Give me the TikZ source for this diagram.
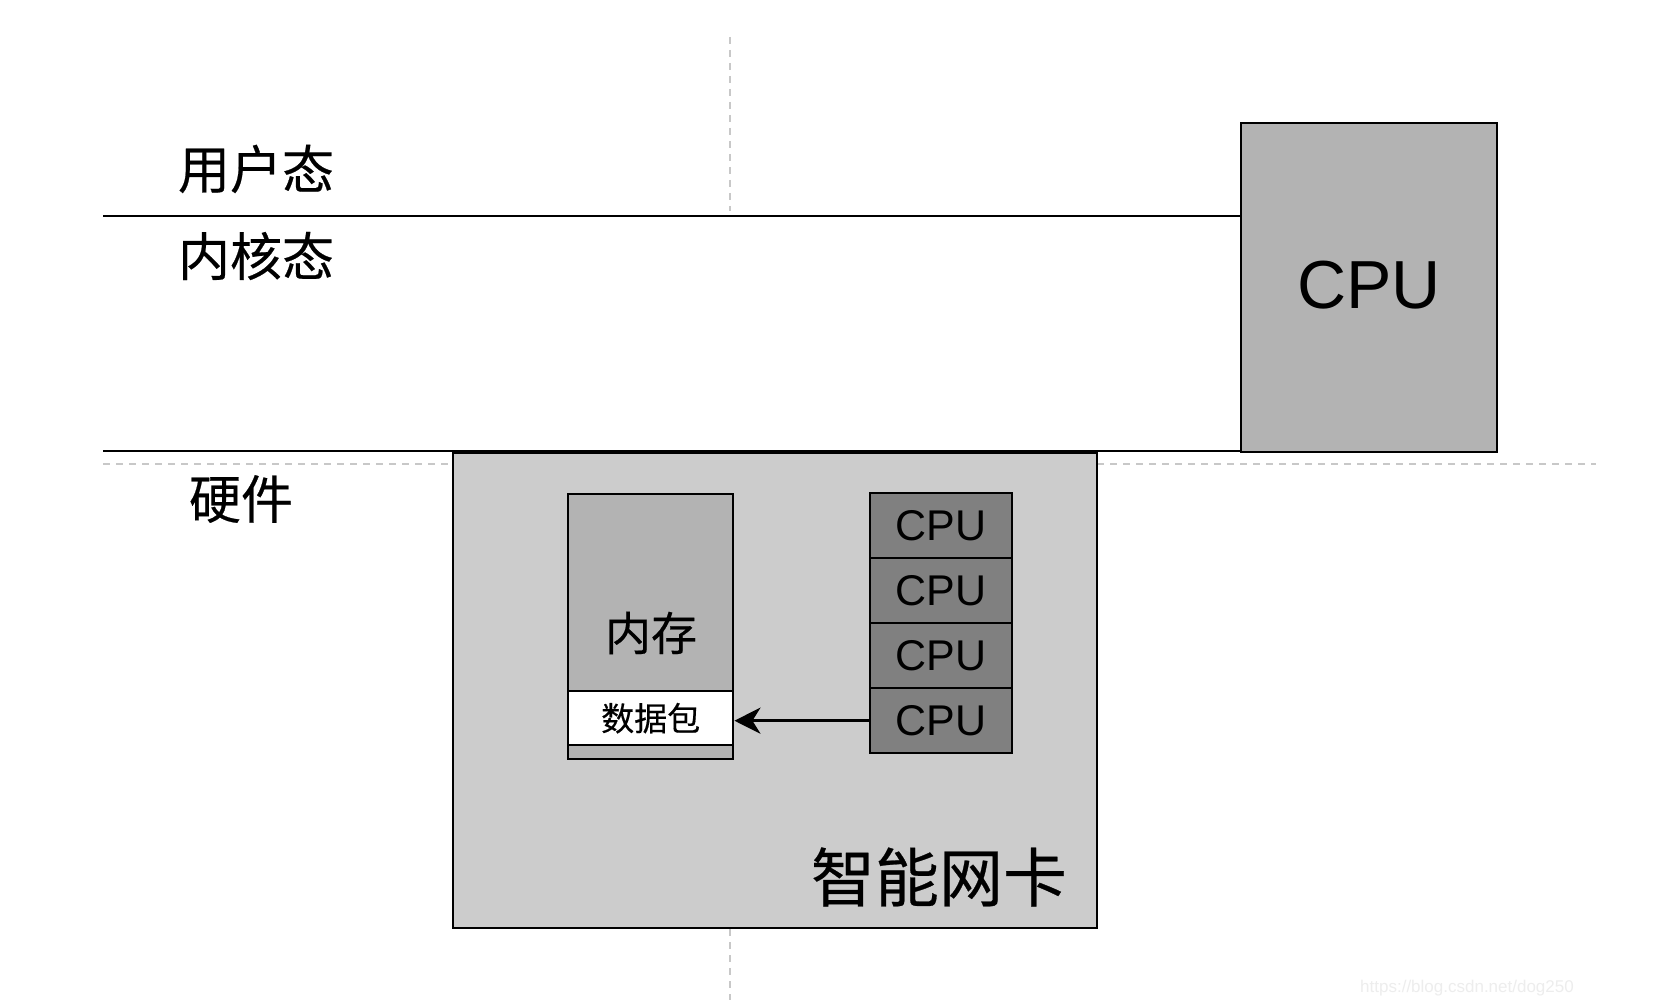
\documentclass[tikz,border=0pt]{standalone}
\usepackage{fontspec}
\setmainfont{Liberation Sans}
\newfontfamily\cjk[FakeBold=0.4]{Noto Sans CJK SC}
\usetikzlibrary{arrows.meta}
\definecolor{nicfill}{HTML}{CCCCCC}
\definecolor{memfill}{HTML}{B3B3B3}
\definecolor{cpufill}{HTML}{808080}
\definecolor{guidecol}{HTML}{C8C8C8}
\begin{document}
\begin{tikzpicture}[x=1pt,y=-1pt,
  box/.style={draw=black, line width=2.4pt, inner sep=0pt, anchor=north west},
  sepline/.style={line width=2pt, draw=black},
  guide/.style={draw=guidecol, line width=1.3pt, dash pattern=on 7pt off 6pt},
  cjklabel/.style={font=\cjk\fontsize{#1}{#1}\selectfont, inner sep=0pt},
  cpurow/.style={box, fill=cpufill, minimum width=142pt, minimum height=65pt, font=\fontsize{43}{43}\selectfont}
]
\useasboundingbox[fill=white] (0,0) rectangle (1655,1000);

% guides
\draw[guide] (730,37) -- (730,211);
\draw[guide] (730,929) -- (730,1000);
\draw[guide] (103,464) -- (452,464);
\draw[guide] (1097,464) -- (1596,464);

% big CPU
\node[box, fill=memfill, minimum width=256pt, minimum height=329pt] (bigcpu) at (1240,122) {};
\node[font=\fontsize{68}{68}\selectfont, inner sep=0pt] (bigcputxt) at (1369,285) {CPU};

% separator lines
\coordinate (l1) at (103,216);
\coordinate (l2) at (103,451);
\draw[sepline] (l1) -- (l1 -| bigcpu.west);
\draw[sepline] (l2) -- (l2 -| bigcpu.west);

% labels
\node[cjklabel=52] (user) at (256,169) {用户态};
\node[cjklabel=52] (kernel) at (256,256) {内核态};
\node[cjklabel=52] (hw) at (241,499) {硬件};

% NIC
\node[box, fill=nicfill, minimum width=644pt, minimum height=475pt] (nic) at (452,452) {};
\node[cjklabel=64] (nictxt) at (939,877) {智能网卡};

% memory
\node[box, fill=memfill, minimum width=165pt, minimum height=265pt] (mem) at (567,493) {};
\node[box, fill=white, minimum width=165pt, minimum height=54pt, cjklabel=33] (pkt) at (567,690) {数据包};
\node[cjklabel=46] (memtxt) at (651,633) {内存};

% CPU stack
\node[cpurow] (cpu1) at (869,492) {CPU};
\node[cpurow] (cpu2) at (869,557) {CPU};
\node[cpurow] (cpu3) at (869,622) {CPU};
\node[cpurow] (cpu4) at (869,687) {CPU};

% arrow
\draw[line width=3.5pt, -{Stealth[length=26pt, width=26pt, inset=8pt]}] (cpu4.west) -- (pkt.east |- cpu4.west);

% watermark
\node[text=black!7, font=\fontsize{17}{17}\selectfont, inner sep=0pt] (wm) at (1467,988) {https://blog.csdn.net/dog250};
\end{tikzpicture}
\end{document}
